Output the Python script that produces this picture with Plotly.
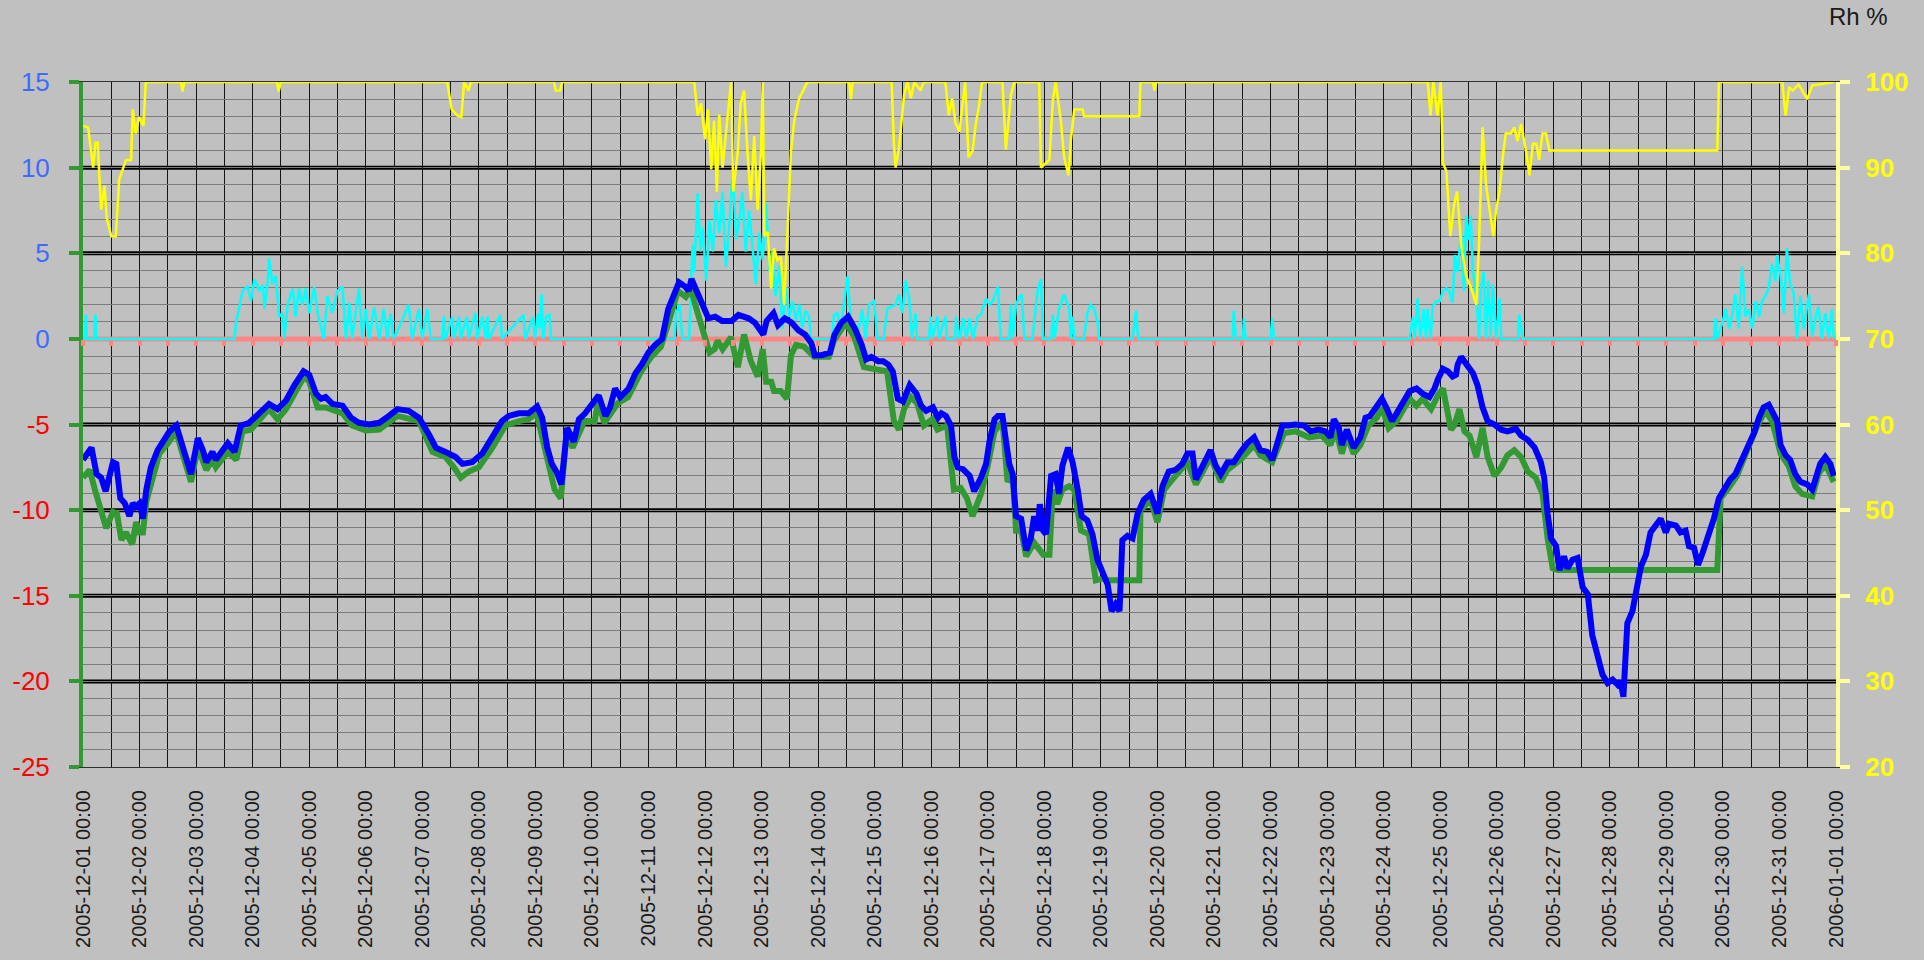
import pandas as pd
import plotly.graph_objects as go

START = pd.Timestamp("2005-12-01 00:00")
END = pd.Timestamp("2006-01-01 00:00")

# (days since 2005-12-01 00:00, value)
blue_pts = [
    (0.0, -7.06), (0.15, -6.35), (0.24, -7.9), (0.32, -8.1), (0.4, -8.9), (0.53, -7.2), (0.59, -7.3),
    (0.66, -9.3), (0.74, -9.6), (0.82, -10.35), (0.88, -9.6), (0.93, -9.8), (1.0, -9.6), (1.06, -10.5),
    (1.12, -8.8), (1.2, -7.5), (1.32, -6.5), (1.44, -5.9), (1.53, -5.4), (1.65, -5.06), (1.74, -6.0),
    (1.82, -6.8), (1.91, -7.9), (2.03, -5.8), (2.12, -6.5), (2.18, -7.2), (2.29, -6.6), (2.35, -7.06),
    (2.44, -6.7), (2.56, -6.1), (2.68, -6.6), (2.79, -5.06), (2.94, -4.9), (3.06, -4.5), (3.18, -4.1),
    (3.29, -3.8), (3.44, -4.1), (3.59, -3.6), (3.74, -2.7), (3.9, -1.9), (4.0, -2.1), (4.12, -3.2),
    (4.21, -3.5), (4.29, -3.4), (4.41, -3.8), (4.59, -3.9), (4.74, -4.6), (4.88, -4.9), (5.06, -5.0),
    (5.24, -4.9), (5.41, -4.5), (5.56, -4.1), (5.76, -4.2), (5.94, -4.6), (6.12, -5.6), (6.24, -6.35),
    (6.41, -6.6), (6.59, -6.9), (6.71, -7.3), (6.88, -7.2), (7.06, -6.7), (7.24, -5.8), (7.41, -4.8),
    (7.53, -4.5), (7.71, -4.35), (7.88, -4.35), (8.03, -3.95), (8.12, -4.6), (8.21, -6.35), (8.29, -7.3),
    (8.38, -7.8), (8.46, -8.5), (8.56, -5.2), (8.68, -6.0), (8.77, -4.7), (8.88, -4.35), (8.97, -4.0),
    (9.06, -3.65), (9.12, -3.3), (9.24, -4.5), (9.32, -4.0), (9.41, -2.9), (9.5, -3.4), (9.65, -2.9),
    (9.77, -2.0), (9.88, -1.5), (10.0, -0.8), (10.12, -0.35), (10.24, 0.0), (10.35, 1.75), (10.44, 2.5),
    (10.54, 3.3), (10.65, 3.05), (10.71, 2.8), (10.76, 3.5), (10.85, 2.8), (10.94, 2.0), (11.06, 1.2),
    (11.18, 1.3), (11.3, 1.05), (11.47, 1.05), (11.59, 1.4), (11.77, 1.2), (11.88, 0.95), (12.03, 0.25),
    (12.09, 1.05), (12.21, 1.5), (12.29, 0.8), (12.41, 1.2), (12.53, 0.95), (12.65, 0.5), (12.77, 0.25),
    (12.88, -0.25), (12.94, -0.95), (13.06, -0.95), (13.21, -0.8), (13.29, 0.25), (13.41, 0.95),
    (13.53, 1.3), (13.65, 0.6), (13.77, -0.35), (13.85, -1.2), (13.94, -1.05), (14.06, -1.3),
    (14.15, -1.3), (14.24, -1.5), (14.32, -1.9), (14.41, -3.5), (14.5, -3.65), (14.62, -2.7),
    (14.74, -3.2), (14.82, -3.9), (14.91, -4.2), (15.03, -4.0), (15.12, -4.6), (15.18, -4.35),
    (15.26, -4.5), (15.35, -5.06), (15.41, -6.9), (15.47, -7.5), (15.56, -7.6), (15.68, -8.0),
    (15.76, -8.9), (15.88, -8.1), (15.97, -7.3), (16.03, -6.0), (16.12, -4.7), (16.18, -4.5),
    (16.26, -4.5), (16.32, -6.2), (16.38, -7.3), (16.44, -7.9), (16.5, -10.35), (16.59, -10.5),
    (16.68, -12.35), (16.76, -11.65), (16.82, -10.35), (16.88, -11.2), (16.92, -9.65), (16.98, -11.2),
    (17.03, -11.4), (17.12, -8.0), (17.2, -7.9), (17.26, -9.05), (17.32, -7.4), (17.42, -6.35),
    (17.5, -7.2), (17.59, -8.8), (17.66, -10.35), (17.76, -10.6), (17.85, -11.4), (17.94, -12.9),
    (18.03, -13.65), (18.12, -14.35), (18.19, -15.9), (18.26, -15.5), (18.33, -15.9), (18.38, -11.75),
    (18.47, -11.5), (18.56, -11.65), (18.65, -10.2), (18.76, -9.4), (18.88, -9.05), (19.0, -10.2),
    (19.09, -8.6), (19.2, -7.75), (19.32, -7.65), (19.44, -7.3), (19.53, -6.7), (19.62, -6.7),
    (19.68, -8.2), (19.79, -7.5), (19.94, -6.5), (20.03, -7.4), (20.12, -7.9), (20.24, -7.2),
    (20.35, -7.2), (20.47, -6.6), (20.59, -6.1), (20.71, -5.75), (20.82, -6.5), (20.94, -6.6),
    (21.03, -7.06), (21.12, -6.1), (21.21, -5.06), (21.32, -5.06), (21.44, -5.0), (21.59, -5.06),
    (21.71, -5.4), (21.85, -5.3), (21.97, -5.4), (22.06, -5.75), (22.12, -4.7), (22.21, -5.2),
    (22.26, -6.2), (22.35, -5.3), (22.47, -6.35), (22.59, -5.75), (22.68, -4.6), (22.76, -4.5),
    (22.85, -4.1), (22.97, -3.5), (23.06, -4.1), (23.15, -4.8), (23.23, -4.35), (23.31, -3.9),
    (23.46, -3.05), (23.58, -2.9), (23.69, -3.2), (23.81, -3.4), (23.9, -2.9), (23.96, -2.35),
    (24.05, -1.75), (24.14, -1.9), (24.22, -2.2), (24.28, -2.1), (24.31, -1.5), (24.37, -1.05),
    (24.46, -1.5), (24.58, -2.0), (24.66, -2.7), (24.75, -4.0), (24.84, -4.8), (24.96, -5.0),
    (25.08, -5.3), (25.19, -5.4), (25.34, -5.25), (25.43, -5.65), (25.55, -5.9), (25.67, -6.35),
    (25.78, -7.2), (25.84, -8.1), (25.9, -10.2), (25.96, -11.65), (26.05, -12.1), (26.11, -13.5),
    (26.19, -12.7), (26.25, -13.4), (26.34, -12.9), (26.43, -12.8), (26.52, -14.5), (26.61, -14.9),
    (26.69, -17.3), (26.78, -18.5), (26.87, -19.6), (26.96, -20.1), (27.05, -19.9), (27.14, -20.2),
    (27.19, -20.0), (27.24, -20.9), (27.31, -16.6), (27.4, -15.9), (27.46, -14.7), (27.55, -13.3),
    (27.64, -12.6), (27.72, -11.3), (27.81, -10.9), (27.9, -10.5), (27.99, -11.3), (28.05, -10.8),
    (28.17, -10.9), (28.25, -11.3), (28.34, -11.2), (28.4, -12.1), (28.49, -12.2), (28.56, -13.2),
    (28.64, -12.5), (28.72, -11.75), (28.84, -10.5), (28.93, -9.3), (29.02, -8.8), (29.13, -8.2),
    (29.22, -7.9), (29.34, -7.06), (29.46, -6.1), (29.55, -5.5), (29.64, -4.6), (29.72, -4.0),
    (29.81, -3.85), (29.9, -4.35), (29.96, -4.8), (30.02, -6.2), (30.11, -6.8), (30.19, -7.06),
    (30.28, -7.9), (30.37, -8.35), (30.49, -8.5), (30.58, -8.8), (30.64, -8.1), (30.72, -7.3),
    (30.81, -6.9), (30.9, -7.3), (30.96, -8.0),
]

green_pts = [
    (0.0, -8.1), (0.12, -7.65), (0.21, -8.8), (0.32, -10.2), (0.41, -11.05), (0.53, -10.1), (0.6, -10.2),
    (0.68, -11.75), (0.76, -11.3), (0.87, -12.0), (0.94, -10.7), (1.0, -11.3), (1.06, -11.3), (1.12, -9.5),
    (1.24, -7.9), (1.35, -6.7), (1.5, -6.1), (1.65, -5.4), (1.74, -6.5), (1.82, -7.3), (1.91, -8.35),
    (2.03, -6.35), (2.18, -7.65), (2.29, -7.06), (2.35, -7.5), (2.56, -6.6), (2.71, -7.06), (2.82, -5.4),
    (2.97, -5.3), (3.18, -4.5), (3.29, -4.1), (3.44, -4.7), (3.59, -4.1), (3.91, -2.2), (4.0, -2.5),
    (4.15, -4.0), (4.29, -4.0), (4.59, -4.35), (4.76, -5.06), (5.0, -5.35), (5.24, -5.3), (5.56, -4.5),
    (5.94, -4.8), (6.18, -6.6), (6.41, -6.9), (6.56, -7.5), (6.68, -8.1), (6.82, -7.75), (7.0, -7.5),
    (7.24, -6.35), (7.47, -5.06), (7.71, -4.8), (7.87, -4.7), (8.02, -4.35), (8.19, -6.8), (8.34, -8.8),
    (8.45, -9.3), (8.55, -5.65), (8.66, -6.35), (8.87, -4.8), (9.05, -4.8), (9.11, -3.65), (9.22, -4.9),
    (9.46, -3.75), (9.64, -3.4), (9.87, -1.9), (10.05, -1.05), (10.22, -0.45), (10.34, 0.8), (10.52, 2.8),
    (10.66, 2.45), (10.75, 2.9), (10.87, 1.5), (10.99, 0.1), (11.08, -0.8), (11.17, -0.6), (11.22, -0.1),
    (11.31, -0.6), (11.46, 0.1), (11.58, -1.65), (11.69, 0.25), (11.81, -1.3), (11.93, -2.2),
    (12.02, -0.6), (12.08, -2.5), (12.17, -2.5), (12.22, -3.05), (12.34, -3.05), (12.45, -3.5),
    (12.52, -0.95), (12.61, -0.35), (12.75, -0.45), (12.87, -0.8), (12.93, -1.05), (13.19, -1.05),
    (13.28, -0.1), (13.49, 0.95), (13.64, 0.1), (13.81, -1.65), (14.05, -1.75), (14.22, -1.9),
    (14.34, -4.8), (14.43, -5.3), (14.52, -4.1), (14.64, -3.4), (14.75, -3.75), (14.87, -5.06),
    (15.02, -4.7), (15.11, -5.3), (15.28, -5.06), (15.4, -8.8), (15.52, -8.7), (15.63, -9.3),
    (15.73, -10.35), (15.88, -9.05), (16.0, -7.4), (16.12, -5.4), (16.26, -4.8), (16.35, -8.35),
    (16.44, -7.9), (16.5, -11.2), (16.59, -11.2), (16.68, -12.7), (16.82, -11.9), (16.98, -12.6),
    (17.09, -12.6), (17.15, -8.8), (17.23, -9.65), (17.32, -8.8), (17.44, -8.6), (17.53, -8.8),
    (17.65, -11.2), (17.79, -11.4), (17.91, -14.1), (18.03, -14.0), (18.12, -14.1), (18.68, -14.1),
    (18.7, -10.0), (18.88, -9.4), (19.0, -10.7), (19.12, -8.8), (19.32, -8.0), (19.53, -7.2),
    (19.68, -8.5), (19.94, -6.9), (20.12, -8.35), (20.24, -7.65), (20.47, -7.06), (20.71, -6.2),
    (20.82, -6.8), (21.03, -7.2), (21.24, -5.5), (21.44, -5.4), (21.68, -5.75), (21.91, -5.65),
    (22.06, -6.2), (22.15, -5.2), (22.26, -6.7), (22.35, -5.65), (22.47, -6.7), (22.59, -6.2),
    (22.73, -5.06), (22.88, -4.6), (22.97, -4.0), (23.09, -5.2), (23.23, -4.8), (23.31, -4.35),
    (23.46, -3.5), (23.58, -3.9), (23.69, -3.5), (23.84, -4.1), (23.96, -3.3), (24.05, -2.9),
    (24.11, -4.1), (24.19, -5.3), (24.25, -5.06), (24.34, -4.1), (24.43, -5.4), (24.52, -5.65),
    (24.64, -6.9), (24.75, -5.2), (24.84, -6.9), (24.96, -8.0), (25.08, -7.5), (25.19, -6.8),
    (25.31, -6.5), (25.43, -6.9), (25.55, -7.75), (25.69, -8.1), (25.81, -9.05), (25.9, -11.65),
    (25.99, -13.4), (26.08, -13.5), (28.9, -13.5), (28.96, -9.3), (29.08, -8.8), (29.25, -8.0),
    (29.43, -6.5), (29.61, -5.06), (29.75, -4.2), (29.87, -4.8), (30.02, -6.7), (30.16, -7.4),
    (30.28, -8.6), (30.4, -9.05), (30.58, -9.2), (30.69, -7.9), (30.81, -7.3), (30.96, -8.35),
]

rh_pts = [
    (0.0, 94.9), (0.09, 94.7), (0.18, 90.0), (0.22, 92.9), (0.26, 92.9), (0.32, 85.1), (0.38, 87.9),
    (0.42, 84.1), (0.5, 82.0), (0.58, 82.0), (0.64, 88.6), (0.71, 89.8), (0.76, 90.9), (0.85, 90.9),
    (0.88, 96.8), (0.93, 94.0), (0.99, 95.9), (1.07, 94.9), (1.11, 100), (1.73, 100), (1.76, 98.9),
    (1.79, 100), (3.43, 100), (3.46, 98.9), (3.5, 100), (6.44, 100), (6.52, 96.8), (6.62, 96.1),
    (6.69, 95.9), (6.74, 100), (6.82, 99), (6.86, 100), (8.33, 100), (8.36, 99), (8.44, 99),
    (8.47, 100), (10.81, 100), (10.87, 96.1), (10.93, 97.5), (11.0, 93.3), (11.05, 96.8),
    (11.11, 89.8), (11.16, 95.5), (11.21, 87.2), (11.25, 96.2), (11.31, 90.0), (11.4, 96.3),
    (11.46, 100), (11.5, 87.2), (11.58, 91.9), (11.63, 97.5), (11.69, 99), (11.75, 91.9),
    (11.81, 86.2), (11.87, 93.7), (11.93, 85.1), (11.99, 91.9), (12.02, 100), (12.05, 82.0),
    (12.11, 82.5), (12.17, 75.9), (12.22, 80.6), (12.28, 79.2), (12.34, 79.6), (12.4, 74.0),
    (12.46, 82.5), (12.52, 91.9), (12.58, 95.6), (12.66, 98), (12.75, 99.2), (12.81, 100),
    (13.55, 100), (13.58, 98), (13.61, 100), (14.3, 100), (14.34, 92.8), (14.37, 90.0), (14.43, 92.3),
    (14.52, 98.5), (14.58, 100), (14.64, 98.1), (14.7, 100), (14.81, 99), (14.87, 100), (15.25, 100),
    (15.31, 96.1), (15.37, 98.1), (15.43, 95.2), (15.5, 94.2), (15.55, 97.2), (15.6, 100),
    (15.66, 91.2), (15.73, 91.9), (15.79, 95.2), (15.84, 97), (15.9, 100), (16.26, 100), (16.32, 92.1),
    (16.41, 98.5), (16.47, 100), (16.91, 100), (16.94, 90.0), (17.09, 90.9), (17.15, 97.8), (17.2, 100),
    (17.29, 95.6), (17.35, 91.2), (17.43, 89.1), (17.47, 93.3), (17.53, 96.8), (17.68, 96.8),
    (17.7, 96), (18.68, 96), (18.7, 100), (18.92, 100), (18.95, 99), (18.98, 100), (23.78, 100),
    (23.83, 96.1), (23.88, 100), (23.95, 96.1), (24.01, 100), (24.05, 90.5), (24.11, 89.6),
    (24.18, 82.0), (24.25, 85.8), (24.3, 87.2), (24.37, 81.1), (24.46, 77.3), (24.55, 75.9),
    (24.64, 74.0), (24.69, 81.6), (24.75, 94.7), (24.81, 88.1), (24.87, 85.1), (24.94, 82.0),
    (24.99, 85.1), (25.05, 87.2), (25.11, 91.4), (25.16, 94), (25.25, 94), (25.31, 94.7),
    (25.37, 93.1), (25.43, 95.1), (25.52, 91.9), (25.58, 89.1), (25.64, 92.8), (25.7, 92.8),
    (25.75, 90.9), (25.81, 94), (25.87, 94), (25.93, 92), (28.9, 92), (28.93, 100), (30.05, 100),
    (30.11, 96.1), (30.17, 99.4), (30.23, 99), (30.34, 99.7), (30.4, 99), (30.49, 98), (30.58, 99.6),
    (30.96, 100),
]

cyan_pts = [
    (0.0, 0), (0.03, 0), (0.05, 1.4), (0.07, 0), (0.2, 0), (0.22, 1.4), (0.24, 0), (2.68, 0),
    (2.71, 1.05), (2.76, 1.75), (2.82, 2.8), (2.91, 3.05), (2.97, 2.2), (3.03, 3.5), (3.12, 2.8),
    (3.18, 3.15), (3.21, 1.75), (3.27, 3.4), (3.29, 4.7), (3.35, 3.2), (3.41, 3.65), (3.47, 1.3),
    (3.53, 1.5), (3.56, 0), (3.62, 2.0), (3.71, 2.95), (3.76, 1.3), (3.82, 2.95), (3.88, 2.0),
    (3.94, 2.95), (4.0, 1.5), (4.09, 3.05), (4.15, 1.5), (4.26, 0), (4.32, 2.5), (4.41, 1.5),
    (4.5, 2.8), (4.59, 3.05), (4.65, 0), (4.71, 2.1), (4.76, 0), (4.88, 2.95), (4.94, 0), (5.0, 1.75),
    (5.06, 0), (5.15, 1.85), (5.24, 0), (5.32, 1.75), (5.38, 0), (5.44, 1.5), (5.5, 0), (5.76, 2.0),
    (5.82, 0), (5.94, 1.75), (6.0, 0), (6.09, 1.75), (6.15, 0), (6.35, 0), (6.38, 1.3), (6.41, 0),
    (6.53, 1.3), (6.56, 0), (6.65, 1.3), (6.68, 0), (6.79, 1.3), (6.82, 0), (6.94, 1.5), (6.97, 0),
    (7.06, 1.3), (7.12, 0), (7.15, 1.3), (7.18, 0), (7.38, 1.4), (7.41, 0), (7.79, 1.4), (7.82, 0),
    (7.96, 1.3), (7.99, 0), (8.05, 1.5), (8.08, 0.6), (8.11, 2.6), (8.14, 0), (8.19, 1.3), (8.25, 1.4),
    (8.28, 0), (10.46, 0), (10.49, 1.5), (10.55, 2.0), (10.6, 0), (10.72, 0), (10.78, 5.5),
    (10.81, 3.9), (10.87, 8.5), (10.92, 5.1), (10.96, 6.5), (11.02, 3.4), (11.08, 6.9), (11.14, 5.1),
    (11.19, 8.1), (11.25, 6.2), (11.31, 8.6), (11.37, 4.2), (11.43, 6.7), (11.49, 9.8), (11.55, 5.8),
    (11.61, 7.0), (11.66, 8.6), (11.72, 5.1), (11.78, 7.5), (11.84, 5.3), (11.9, 3.2), (11.96, 6.2),
    (12.02, 4.6), (12.08, 7.9), (12.14, 3.9), (12.19, 5.1), (12.25, 2.5), (12.31, 4.3), (12.37, 0.6),
    (12.43, 3.0), (12.49, 1.3), (12.55, 2.2), (12.61, 1.05), (12.67, 2.0), (12.72, 0.6),
    (12.78, 1.65), (12.84, 1.3), (12.87, 0), (13.25, 0), (13.28, 1.4), (13.34, 1.5), (13.4, 0.6),
    (13.46, 2.0), (13.52, 3.65), (13.58, 1.05), (13.64, 0.6), (13.69, 0), (13.78, 1.75), (13.84, 0),
    (13.9, 2.0), (13.99, 2.2), (14.05, 0), (14.16, 0), (14.22, 1.75), (14.28, 1.85), (14.37, 2.0),
    (14.43, 2.6), (14.49, 1.5), (14.55, 3.4), (14.61, 2.4), (14.66, 0), (14.72, 1.5), (14.75, 0),
    (14.96, 0), (14.99, 1.3), (15.02, 0), (15.11, 1.3), (15.14, 0), (15.25, 1.3), (15.28, 0),
    (15.42, 0), (15.44, 1.3), (15.5, 0), (15.57, 1.2), (15.62, 0), (15.68, 1.2), (15.74, 0),
    (15.82, 1.3), (15.88, 1.4), (15.97, 2.35), (16.03, 2.0), (16.09, 2.2), (16.18, 3.05), (16.23, 0),
    (16.38, 0), (16.41, 2.0), (16.44, 0), (16.5, 2.0), (16.56, 2.45), (16.6, 2.6), (16.65, 0),
    (16.79, 0), (16.88, 2.8), (16.94, 3.5), (16.98, 0), (17.12, 0), (17.15, 1.4), (17.18, 0),
    (17.26, 1.75), (17.35, 2.6), (17.44, 1.75), (17.47, 0), (17.5, 1.3), (17.53, 0), (17.7, 0),
    (17.76, 1.5), (17.82, 2.0), (17.88, 1.75), (17.94, 1.05), (17.97, 0), (18.56, 0), (18.62, 1.65),
    (18.66, 0), (20.33, 0), (20.35, 1.65), (20.39, 0), (20.51, 0), (20.53, 1.2), (20.56, 0),
    (21.0, 0), (21.03, 1.2), (21.06, 0), (23.46, 0), (23.52, 1.3), (23.55, 0), (23.6, 2.35),
    (23.65, 0), (23.71, 1.75), (23.75, 0), (23.78, 1.75), (23.83, 0), (23.87, 1.88), (23.93, 2.2),
    (23.99, 2.2), (24.05, 2.8), (24.11, 2.95), (24.17, 2.7), (24.22, 2.1), (24.26, 4.9), (24.31, 3.9),
    (24.37, 6.2), (24.42, 2.8), (24.46, 7.2), (24.49, 5.8), (24.54, 7.2), (24.58, 3.9), (24.64, 2.5),
    (24.69, 0), (24.72, 2.95), (24.77, 3.9), (24.81, 0), (24.85, 3.4), (24.89, 0), (24.93, 3.2),
    (24.99, 0), (25.05, 2.35), (25.08, 0), (25.38, 0), (25.4, 1.4), (25.46, 0), (28.84, 0),
    (28.87, 1.2), (28.9, 0), (29.0, 1.05), (29.05, 1.75), (29.11, 0.6), (29.17, 1.5), (29.22, 2.6),
    (29.28, 0.6), (29.34, 4.2), (29.4, 1.3), (29.46, 1.75), (29.52, 0.6), (29.58, 2.2), (29.64, 1.3),
    (29.69, 2.2), (29.75, 2.5), (29.81, 2.95), (29.87, 4.4), (29.93, 3.4), (29.96, 4.9),
    (30.02, 3.65), (30.08, 1.5), (30.13, 5.3), (30.19, 3.2), (30.25, 2.7), (30.31, 0), (30.37, 2.5),
    (30.43, 0.6), (30.52, 2.6), (30.58, 0.1), (30.64, 1.3), (30.69, 1.88), (30.75, 0), (30.81, 1.5),
    (30.87, 0), (30.93, 1.75), (30.96, 0),
]

left_ticks = [15, 10, 5, 0, -5, -10, -15, -20, -25]
left_colors = ["#3d6bff"] * 4 + ["#ff0000"] * 5
right_ticks = [20, 30, 40, 50, 60, 70, 80, 90, 100]
heavy_lines = [10, 5, -5, -10, -15, -20]


def split(pts):
    days = [p[0] for p in pts]
    vals = [p[1] for p in pts]
    return [START + pd.Timedelta(days=d) for d in days], vals


fig = go.Figure()

# pink zero line (under everything)
fig.add_trace(go.Scatter(x=[START, END], y=[0, 0], mode="lines",
                         line=dict(color="#ff8585", width=5), hoverinfo="skip"))

x, y = split(cyan_pts)
fig.add_trace(go.Scatter(x=x, y=y, mode="lines", line=dict(color="#00ffff", width=2.5)))
x, y = split(green_pts)
fig.add_trace(go.Scatter(x=x, y=y, mode="lines", line=dict(color="#339933", width=6)))
x, y = split(blue_pts)
fig.add_trace(go.Scatter(x=x, y=y, mode="lines", line=dict(color="#0000ff", width=6)))
x, y = split(rh_pts)
fig.add_trace(go.Scatter(x=x, y=y, mode="lines", yaxis="y2", line=dict(color="#ffff00", width=2.5)))

# invisible trace so the pink tick axis at zero gets drawn
fig.add_trace(go.Scatter(x=[START, END], y=[0, 0], xaxis="x2", mode="lines",
                         line=dict(color="rgba(0,0,0,0)", width=1), hoverinfo="skip"))

for v in heavy_lines:
    fig.add_shape(type="line", xref="paper", x0=0, x1=1, yref="y", y0=v, y1=v,
                  line=dict(color="black", width=4), layer="below")

fig.update_layout(
    width=1924, height=960,
    paper_bgcolor="#c0c0c0", plot_bgcolor="#c0c0c0",
    showlegend=False,
    margin=dict(l=80, r=88, t=82, b=186),
    font=dict(family="Liberation Sans, Arial, sans-serif", color="#1a1a1a"),
    xaxis=dict(
        type="date", range=[START, END],
        tickmode="linear", tick0=START, dtick=86400000,
        tickformat="%Y-%m-%d %H:%M", tickangle=-90,
        tickfont=dict(size=20, color="#1a1a1a"),
        showgrid=True, gridcolor="#151515", gridwidth=1,
        minor=dict(tick0=START, dtick=43200000, showgrid=True, gridcolor="#151515", gridwidth=1),
        showline=True, linecolor="#303030", linewidth=1, mirror=True,
        ticks="", ticklabelstandoff=14, zeroline=False,
    ),
    xaxis2=dict(
        type="date", range=[START, END], overlaying="x", anchor="free", position=0.625,
        side="bottom", tickmode="linear", tick0=START, dtick=43200000,
        ticks="outside", ticklen=6, tickwidth=4, tickcolor="#ff8585",
        showticklabels=False, showgrid=False, zeroline=False, showline=False,
    ),
    yaxis=dict(
        range=[-25, 15], tickmode="array", tickvals=left_ticks,
        ticktext=[f'<span style="color:{c}">{v}</span>' for v, c in zip(left_ticks, left_colors)],
        tickfont=dict(size=26),
        showgrid=False,
        minor=dict(tick0=0, dtick=1, showgrid=True, gridcolor="#7c7c7c", gridwidth=1),
        showline=True, linecolor="#339933", linewidth=4,
        ticks="outside", ticklen=10, tickwidth=4, tickcolor="#339933",
        ticklabelstandoff=14, zeroline=False,
    ),
    yaxis2=dict(
        range=[20, 100], overlaying="y", side="right", tickmode="array", tickvals=right_ticks,
        tickfont=dict(size=26, color="#ffff00", weight="bold"),
        showgrid=False, zeroline=False,
        showline=True, linecolor="#ffff99", linewidth=4,
        ticks="outside", ticklen=10, tickwidth=4, tickcolor="#ffff99",
        ticklabelstandoff=10,
    ),
    annotations=[dict(text="Rh %", xref="paper", yref="paper", x=1, y=1,
                      xanchor="left", yanchor="bottom", xshift=-9, yshift=50,
                      showarrow=False, font=dict(size=24, color="#1a1a1a"))],
)

fig.write_html("out.html", config={"displayModeBar": False},
               post_script="document.body.style.margin='0';")
